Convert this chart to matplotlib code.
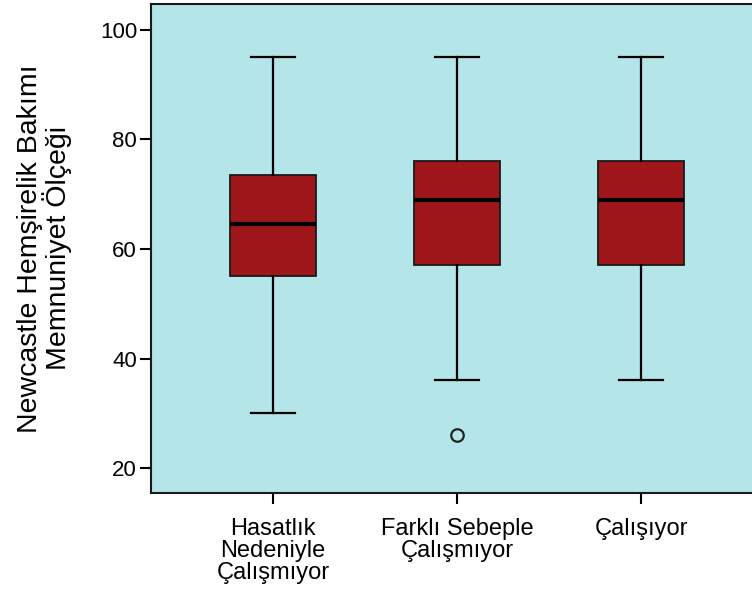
#!/usr/bin/env python3
import matplotlib
matplotlib.use("Agg")
import matplotlib.pyplot as plt

CATEGORIES = ["Hasatlık\nNedeniyle\nÇalışmıyor", "Farklı Sebeple\nÇalışmıyor", "Çalışıyor"]
WHISKER_LOW = [30, 36, 36]
Q1 = [55, 57, 57]
MEDIAN = [64.5, 69, 69]
Q3 = [73.5, 76, 76]
WHISKER_HIGH = [95, 95, 95]
OUTLIERS = [[], [26], []]
Y_TICKS = [20, 40, 60, 80, 100]
Y_LABEL = "Newcastle Hemşirelik Bakımı\nMemnuniyet Ölçeği"

BG_COLOR = "#b4e5e8"
BOX_COLOR = "#9f171b"
OUTPUT_PATH = "out.png"


def main() -> None:
    plt.rcParams["font.family"] = ["Liberation Sans", "DejaVu Sans"]
    fig = plt.figure(figsize=(7.52, 5.97), dpi=100)
    fig.patch.set_facecolor("white")

    # axes runs past the right edge of the figure, like the cropped source
    ax = fig.add_axes([151 / 752, 1 - 493 / 597, 612 / 752, 489 / 597])
    ax.set_facecolor(BG_COLOR)

    stats = []
    for i, label in enumerate(CATEGORIES):
        stats.append(
            dict(
                label=label,
                whislo=WHISKER_LOW[i],
                q1=Q1[i],
                med=MEDIAN[i],
                q3=Q3[i],
                whishi=WHISKER_HIGH[i],
                fliers=OUTLIERS[i],
            )
        )

    ax.bxp(
        stats,
        positions=[1, 2, 3],
        widths=0.47,
        patch_artist=True,
        boxprops=dict(facecolor=BOX_COLOR, edgecolor="#1a1a1a", linewidth=1.3),
        medianprops=dict(color="black", linewidth=3),
        whiskerprops=dict(color="black", linewidth=1.6),
        capprops=dict(color="black", linewidth=1.6),
        capwidths=0.235,
        flierprops=dict(marker="o", markerfacecolor="none", markeredgecolor="#222222",
                        markersize=9, markeredgewidth=1.6),
    )

    ax.set_xlim(1 - 122 / 184, 3 + 122 / 184)
    ax.set_ylim(20 - 25 / 5.485, 100 + 26 / 5.485)
    ax.set_yticks(Y_TICKS)
    ax.set_xticks([1, 2, 3])
    ax.set_xticklabels(CATEGORIES, fontsize=17, linespacing=1.0)
    ax.tick_params(axis="y", labelsize=16, length=8, width=1.5, direction="out", pad=2)
    ax.tick_params(axis="x", length=8, width=1.5, direction="out", pad=10)
    for side in ["left", "bottom", "top", "right"]:
        ax.spines[side].set_linewidth(1.5)
        ax.spines[side].set_color("#1a1a1a")

    ax.set_ylabel(Y_LABEL, fontsize=20.5, linespacing=0.95, labelpad=20)

    fig.savefig(OUTPUT_PATH, dpi=100)
    plt.close(fig)


if __name__ == "__main__":
    main()
